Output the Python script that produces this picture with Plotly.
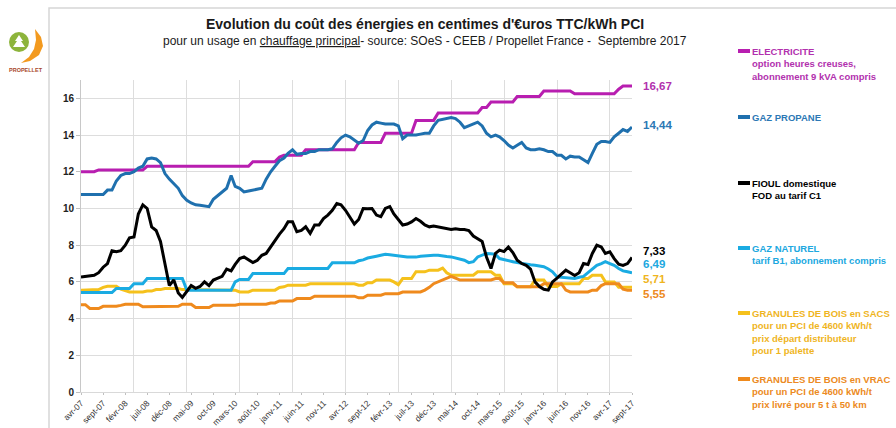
import plotly.graph_objects as go
import pandas as pd

# ---------------- data ----------------
MONTHS = pd.date_range("2007-04-01", periods=126, freq="MS")
TICK_LABELS = ["avr-07", "sept-07", "févr-08", "juil-08", "déc-08", "mai-09", "oct-09",
               "mars-10", "août-10", "janv-11", "juin-11", "nov-11", "avr-12", "sept-12",
               "févr-13", "juil-13", "déc-13", "mai-14", "oct-14", "mars-15", "août-15",
               "janv-16", "juin-16", "nov-16", "avr-17", "sept-17"]
Y_TICKS = [0, 2, 4, 6, 8, 10, 12, 14, 16]

ELECTRICITE = [
    12.0, 12.0, 12.0, 12.0, 12.1, 12.1, 12.1, 12.1, 12.1, 12.1,
    12.1, 12.1, 12.1, 12.1, 12.1, 12.3, 12.3, 12.3, 12.3, 12.3,
    12.3, 12.3, 12.3, 12.3, 12.3, 12.3, 12.3, 12.3, 12.3, 12.3,
    12.3, 12.3, 12.3, 12.3, 12.3, 12.3, 12.3, 12.3, 12.3, 12.55,
    12.55, 12.55, 12.55, 12.55, 12.55, 12.8, 12.9, 12.9, 12.9, 12.9,
    12.9, 13.2, 13.2, 13.2, 13.2, 13.2, 13.2, 13.2, 13.2, 13.2,
    13.2, 13.2, 13.2, 13.6, 13.6, 13.6, 13.6, 13.6, 13.6, 14.1,
    14.1, 14.1, 14.1, 14.1, 14.1, 14.1, 14.8, 14.8, 14.8, 14.8,
    14.8, 15.2, 15.2, 15.2, 15.2, 15.2, 15.2, 15.2, 15.2, 15.2,
    15.2, 15.5, 15.5, 15.8, 15.8, 15.8, 15.8, 15.8, 15.8, 16.1,
    16.1, 16.1, 16.1, 16.1, 16.1, 16.4, 16.4, 16.4, 16.4, 16.4,
    16.4, 16.4, 16.25, 16.25, 16.25, 16.25, 16.25, 16.25, 16.25, 16.25,
    16.25, 16.25, 16.5, 16.67, 16.67, 16.67]

GAZ_PROPANE = [
    10.76, 10.76, 10.76, 10.76, 10.76, 10.76, 11.0, 11.0, 11.5, 11.8,
    11.9, 11.9, 12.0, 12.2, 12.3, 12.7, 12.75, 12.7, 12.5, 11.9,
    11.6, 11.35, 11.1, 10.7, 10.45, 10.3, 10.2, 10.18, 10.15, 10.1,
    10.5, 10.7, 10.9, 11.1, 11.8, 11.2, 11.1, 10.9, 10.95, 11.0,
    11.05, 11.1, 11.6, 12.0, 12.3, 12.6, 12.75, 13.0, 13.2, 12.95,
    13.0, 13.0, 13.1, 13.1, 13.2, 13.2, 13.2, 13.25, 13.6, 13.85,
    14.0, 13.9, 13.7, 13.55, 13.7, 14.25, 14.55, 14.7, 14.65, 14.6,
    14.6, 14.6, 14.5, 13.8, 14.0, 14.0, 14.0, 14.05, 14.1, 14.1,
    14.5, 14.8, 14.85, 14.9, 14.95, 14.9, 14.7, 14.4, 14.5, 14.6,
    14.7, 14.5, 14.1, 13.9, 14.0, 13.9, 13.7, 13.45, 13.3, 13.45,
    13.6, 13.3, 13.2, 13.2, 13.25, 13.2, 13.1, 13.1, 12.9, 12.9,
    12.7, 12.85, 12.8, 12.8, 12.65, 12.5, 13.0, 13.5, 13.65, 13.65,
    13.6, 13.9, 14.1, 14.3, 14.2, 14.44]

FIOUL = [
    6.27, 6.3, 6.36, 6.36, 6.5, 6.8, 7.0, 7.7, 7.65, 7.7,
    8.0, 8.4, 8.45, 9.7, 10.2, 10.0, 9.0, 8.8, 8.2, 7.0,
    5.8, 6.1, 5.4, 5.15, 5.45, 5.8, 5.65, 5.75, 6.0, 5.8,
    6.1, 6.2, 6.3, 6.7, 6.6, 6.95, 7.27, 7.36, 7.2, 7.05,
    7.18, 7.45, 7.55, 7.9, 8.3, 8.6, 8.9, 9.27, 9.27, 8.73,
    8.8, 9.0, 8.64, 9.1, 9.1, 9.45, 9.64, 9.9, 10.27, 10.2,
    9.9, 9.5, 9.15, 9.4, 10.0, 9.98, 10.0, 9.64, 9.55, 10.0,
    10.1, 9.7, 9.36, 9.1, 9.15, 9.27, 9.45, 9.3, 9.1, 9.0,
    9.05, 9.0, 8.95, 8.9, 8.85, 8.9, 8.85, 8.85, 8.8, 8.5,
    8.36, 8.2, 7.36, 6.73, 7.55, 7.73, 7.65, 7.9, 7.6, 7.18,
    7.0, 6.9, 6.7, 6.0, 5.75, 5.6, 5.55, 6.0, 6.2, 6.4,
    6.64, 6.5, 6.35, 6.5, 7.0, 6.95, 7.55, 8.0, 7.9, 7.55,
    7.64, 7.27, 6.96, 6.9, 7.0, 7.33]

GAZ_NATUREL = [
    5.42, 5.42, 5.42, 5.42, 5.42, 5.42, 5.42, 5.42, 5.64, 5.64,
    5.64, 5.64, 5.9, 5.9, 5.9, 6.18, 6.18, 6.18, 6.18, 6.18,
    6.18, 6.18, 6.18, 6.18, 5.55, 5.55, 5.55, 5.55, 5.55, 5.55,
    5.55, 5.55, 5.55, 5.55, 5.55, 6.0, 6.13, 6.13, 6.13, 6.45,
    6.45, 6.45, 6.45, 6.45, 6.45, 6.45, 6.45, 6.73, 6.73, 6.73,
    6.73, 6.73, 6.73, 6.73, 6.73, 6.73, 6.73, 7.04, 7.04, 7.04,
    7.04, 7.04, 7.04, 7.15, 7.2, 7.3, 7.33, 7.4, 7.45, 7.5,
    7.48, 7.45, 7.4, 7.36, 7.36, 7.35, 7.35, 7.4, 7.42, 7.45,
    7.45, 7.45, 7.4, 7.38, 7.36, 7.3, 7.25, 7.18, 7.05, 7.1,
    7.36, 7.45, 7.55, 7.53, 7.5, 7.27, 7.2, 7.15, 7.1, 7.05,
    7.0, 6.96, 6.93, 6.9, 6.85, 6.83, 6.7, 6.55, 6.27, 6.25,
    6.24, 6.2, 6.18, 6.25, 6.3, 6.5, 6.7, 6.9, 7.0, 7.1,
    7.0, 6.9, 6.73, 6.6, 6.55, 6.49]

GRANULES_SACS = [
    5.55, 5.55, 5.58, 5.58, 5.58, 5.7, 5.76, 5.76, 5.76, 5.6,
    5.5, 5.45, 5.45, 5.45, 5.45, 5.5, 5.5, 5.58, 5.58, 5.64,
    5.64, 5.64, 5.64, 5.58, 5.58, 5.58, 5.55, 5.55, 5.55, 5.55,
    5.55, 5.55, 5.55, 5.55, 5.55, 5.55, 5.45, 5.45, 5.45, 5.55,
    5.55, 5.55, 5.55, 5.55, 5.55, 5.7, 5.73, 5.82, 5.82, 5.82,
    5.82, 5.82, 5.9, 5.9, 5.9, 5.9, 5.9, 5.9, 5.9, 5.9,
    5.9, 5.9, 5.9, 5.82, 5.82, 5.95, 5.95, 6.1, 6.1, 6.1,
    6.1, 6.0, 5.85, 6.18, 6.18, 6.18, 6.55, 6.55, 6.55, 6.64,
    6.64, 6.64, 6.75, 6.5, 6.36, 6.36, 6.36, 6.36, 6.36, 6.36,
    6.55, 6.55, 6.55, 6.55, 6.36, 6.36, 5.9, 5.9, 5.9, 5.73,
    5.73, 5.73, 5.73, 6.1, 6.1, 6.1, 5.75, 5.75, 5.75, 5.9,
    5.9, 5.9, 5.9, 5.9, 6.18, 6.18, 6.36, 6.36, 6.36, 6.0,
    6.0, 6.0, 5.71, 5.71, 5.71, 5.71]

GRANULES_VRAC = [
    4.76, 4.76, 4.55, 4.55, 4.55, 4.67, 4.67, 4.67, 4.67, 4.72,
    4.78, 4.78, 4.78, 4.78, 4.64, 4.64, 4.64, 4.64, 4.66, 4.67,
    4.67, 4.67, 4.67, 4.78, 4.78, 4.78, 4.6, 4.6, 4.6, 4.6,
    4.73, 4.73, 4.73, 4.73, 4.73, 4.73, 4.78, 4.78, 4.78, 4.78,
    4.78, 4.78, 4.78, 4.85, 4.85, 4.96, 4.96, 4.96, 4.96, 5.09,
    5.09, 5.09, 5.09, 5.22, 5.22, 5.22, 5.22, 5.22, 5.22, 5.22,
    5.22, 5.22, 5.22, 5.13, 5.13, 5.27, 5.27, 5.27, 5.27, 5.36,
    5.36, 5.36, 5.36, 5.45, 5.45, 5.45, 5.45, 5.45, 5.55, 5.7,
    5.9, 6.0, 6.1, 6.2, 6.3, 6.2, 6.1, 6.1, 6.1, 6.1,
    6.1, 6.1, 6.1, 6.1, 6.18, 6.18, 5.95, 5.95, 5.95, 5.73,
    5.73, 5.73, 5.73, 5.73, 5.73, 5.9, 5.9, 5.9, 5.9, 5.9,
    5.55, 5.45, 5.45, 5.45, 5.45, 5.45, 5.55, 5.55, 5.8, 5.9,
    5.9, 5.9, 5.9, 5.6, 5.55, 5.55]

SERIES_NAMES = ["ELECTRICITE", "GAZ PROPANE", "FIOUL domestique", "GAZ NATUREL",
                "GRANULES DE BOIS en SACS", "GRANULES DE BOIS en VRAC"]
SERIES_SUBTEXT = [["option heures creuses,", "abonnement 9 kVA compris"],
                  [],
                  ["FOD au tarif C1"],
                  ["tarif B1, abonnement compris"],
                  ["pour un PCI de 4600 kWh/t", "prix départ distributeur", "pour 1 palette"],
                  ["pour un PCI de 4600 kWh/t", "prix livré pour 5 t à 50 km"]]
FINAL_LABELS = ["16,67", "14,44", "7,33", "6,49", "5,71", "5,55"]

TITLE = "Evolution du coût des énergies en centimes d'€uros TTC/kWh PCI"
SUBTITLE = ("pour un usage en <span style='text-decoration:underline'>chauffage principal</span>"
            "- source: SOeS - CEEB / Propellet France -  Septembre 2017")

# ---------------- style ----------------
LINE_COLORS = ["#B81EB0", "#1F70AE", "#000000", "#1AABE2", "#F5C11C", "#EF8A1D"]
TEXT_COLORS = ["#B231AE", "#2C78B5", "#000000", "#20A8DF", "#EFB51E", "#EC8A22"]
SERIES = [ELECTRICITE, GAZ_PROPANE, FIOUL, GAZ_NATUREL, GRANULES_SACS, GRANULES_VRAC]
DRAW_ORDER = [4, 5, 3, 2, 0, 1]
LEGEND_Y_PX = [51, 117, 183, 248, 313, 379]
FINAL_Y_PX = [86, 125, 251, 264, 279, 294]

FONT = "Liberation Sans, Arial, sans-serif"
W, H = 896, 428
L, R, T, B = 81, 632, 80, 392


def fx(px):
    return (px - L) / (R - L)


def fy(py):
    return (B - py) / (B - T)


fig = go.Figure()
for i in DRAW_ORDER:
    fig.add_trace(go.Scatter(x=MONTHS, y=SERIES[i], mode="lines", name=SERIES_NAMES[i],
                             line=dict(color=LINE_COLORS[i], width=3),
                             showlegend=False, hoverinfo="x+y"))
# helper trace so the yearly gridline axis is drawn
fig.add_trace(go.Scatter(x=[MONTHS[0]], y=[None], xaxis="x2", mode="lines",
                         showlegend=False, hoverinfo="skip"))

annotations = []
shapes = []

# title
annotations.append(dict(text="<b>" + TITLE + "</b>", x=fx(425), y=fy(24), xref="paper", yref="paper",
                        showarrow=False, xanchor="center", yanchor="middle",
                        font=dict(size=14, color="#1A1A1A", family=FONT)))
annotations.append(dict(text=SUBTITLE, x=fx(425), y=fy(41), xref="paper", yref="paper",
                        showarrow=False, xanchor="center", yanchor="middle",
                        font=dict(size=12, color="#1A1A1A", family=FONT)))

# legend (right side)
for i, name in enumerate(SERIES_NAMES):
    yc = LEGEND_Y_PX[i]
    shapes.append(dict(type="line", xref="paper", yref="paper", x0=fx(738), x1=fx(750),
                       y0=fy(yc), y1=fy(yc), line=dict(color=LINE_COLORS[i], width=4)))
    lines = [name] + SERIES_SUBTEXT[i]
    txt = "<br>".join("<b>" + s + "</b>" for s in lines)
    annotations.append(dict(text=txt, x=fx(750), y=fy(yc - 7), xref="paper", yref="paper",
                            showarrow=False, xanchor="left", yanchor="top", align="left",
                            font=dict(size=9.5, color=TEXT_COLORS[i], family=FONT)))
    annotations.append(dict(text="<b>" + FINAL_LABELS[i] + "</b>", x=fx(641), y=fy(FINAL_Y_PX[i]),
                            xref="paper", yref="paper", showarrow=False, xanchor="left",
                            yanchor="middle",
                            font=dict(size=11.5, color=TEXT_COLORS[i], family=FONT)))

# outer frame
shapes.append(dict(type="rect", xref="paper", yref="paper", x0=fx(49), x1=fx(905),
                   y0=fy(440), y1=fy(8), line=dict(color="#D6D6D6", width=1.5), layer="below"))

# logo (approximate)
shapes.append(dict(type="circle", xref="paper", yref="paper", x0=fx(9), x1=fx(29),
                   y0=fy(52), y1=fy(32), fillcolor="#8DB43C", line=dict(width=0)))


def path(pts):
    s = "M {} {}".format(fx(pts[0][0]), fy(pts[0][1]))
    for p in pts[1:]:
        s += " L {} {}".format(fx(p[0]), fy(p[1]))
    return s + " Z"


shapes.append(dict(type="path", xref="paper", yref="paper",
                   path=path([(19, 35), (23, 41), (21, 41), (25, 47), (13, 47), (17, 41), (15, 41)]),
                   fillcolor="white", line=dict(width=0)))
shapes.append(dict(type="path", xref="paper", yref="paper",
                   path=path([(35, 29), (41, 37), (43, 46), (39, 55), (30, 61), (21, 63),
                              (29, 57), (34, 49), (36, 40)]),
                   fillcolor="#F39A1F", line=dict(width=0)))
annotations.append(dict(text="<b>PROPELLET</b>", x=fx(26), y=fy(70), xref="paper", yref="paper",
                        showarrow=False, xanchor="center", yanchor="middle",
                        font=dict(size=5.5, color="#A8462A", family=FONT)))

fig.update_layout(
    width=W, height=H,
    margin=dict(l=L, r=W - R, t=T, b=H - B, autoexpand=False),
    paper_bgcolor="white", plot_bgcolor="white",
    font=dict(family=FONT),
    showlegend=False,
    annotations=annotations,
    shapes=shapes,
    xaxis=dict(type="date", range=[MONTHS[0], MONTHS[-1]],
               tickvals=list(MONTHS[::5]), ticktext=TICK_LABELS, tickangle=-45,
               tickfont=dict(size=8.5, color="#333333", family=FONT),
               showgrid=False, zeroline=False,
               ticks="outside", ticklen=2, tickcolor="#BFBFBF",
               showline=True, linecolor="#D9D9D9", linewidth=1, automargin=False),
    xaxis2=dict(type="date", overlaying="x", range=[MONTHS[0], MONTHS[-1]],
                tickvals=list(MONTHS[::12]), showticklabels=False, ticks="",
                showgrid=True, gridcolor="#DDDDDD", gridwidth=1,
                zeroline=False, showline=False),
    yaxis=dict(range=[0, 17], tickvals=Y_TICKS,
               tickfont=dict(size=10, color="#222222", family=FONT, weight="bold"),
               showgrid=True, gridcolor="#DDDDDD", gridwidth=1, zeroline=False,
               ticks="outside", ticklen=4, tickcolor="#BFBFBF",
               showline=True, linecolor="#C8C8C8", linewidth=1, automargin=False),
)

fig.write_html("out.html", config={"displayModeBar": False},
               post_script="document.body.style.margin='0px';document.body.style.overflow='hidden';")
